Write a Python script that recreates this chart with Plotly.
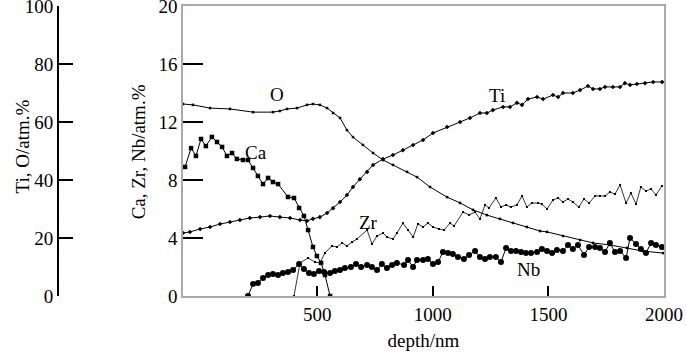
import plotly.graph_objects as go

# ---- data (depth in nm, concentrations in atm.%) ----
o_depth = [-80, -37, 37, 123, 223, 309, 339, 370, 413, 456, 482, 512, 543, 569, 599, 629, 655, 698,
           742, 785, 828, 889, 932, 988, 1062, 1118, 1174, 1234, 1291, 1347, 1407, 1464, 1494, 1563,
           1637, 1693, 1766, 1840, 1909, 1996]
o_val = [66.2, 65.9, 64.8, 64.5, 63.4, 63.4, 63.8, 64.5, 64.8, 65.9, 66.2, 65.9, 64.8, 63.1, 61.4,
         57.2, 54.8, 52.1, 49.3, 46.9, 45.2, 42.8, 41.0, 37.6, 34.1, 32.1, 29.7, 27.9, 26.6, 25.2,
         23.8, 22.4, 22.1, 20.7, 19.3, 18.3, 17.6, 16.6, 15.5, 14.8]

ti_depth = [-80, -50, -6, 37, 80, 123, 166, 209, 253, 296, 339, 383, 426, 456, 482, 512, 543, 569,
            599, 629, 655, 685, 716, 742, 785, 828, 871, 915, 958, 1001, 1062, 1118, 1161, 1204,
            1234, 1260, 1304, 1334, 1364, 1386, 1412, 1451, 1477, 1520, 1542, 1563, 1606, 1637,
            1671, 1693, 1723, 1745, 1779, 1810, 1831, 1853, 1883, 1918, 1953, 1992]
ti_val = [21.7, 22.1, 23.1, 23.8, 24.8, 25.5, 26.2, 26.9, 27.2, 27.6, 27.2, 26.9, 26.2, 25.9, 26.6,
          27.2, 28.6, 30.3, 32.4, 34.8, 37.6, 40.3, 42.8, 45.2, 47.2, 48.6, 50.3, 52.1, 53.8, 56.2,
          58.3, 60.0, 61.4, 63.1, 63.1, 64.1, 65.2, 65.2, 66.6, 65.9, 67.9, 68.6, 67.9, 69.3, 68.6,
          70.0, 70.0, 71.0, 72.4, 71.4, 71.4, 72.1, 72.1, 72.1, 73.4, 72.8, 73.1, 73.4, 73.8, 73.8]

ca_depth = [-71, -45, -24, -2, 19, 45, 67, 89, 110, 132, 153, 179, 201, 223, 244, 266, 288, 309,
            331, 374, 400, 422, 443, 461, 482, 499, 517, 534, 556]
ca_val = [8.90, 10.2, 9.66, 10.83, 10.34, 10.97, 10.62, 10.28, 9.66, 9.86, 9.45, 9.38, 9.38, 8.83,
          8.28, 7.72, 8.14, 7.86, 7.72, 6.83, 6.76, 6.07, 5.52, 4.55, 3.38, 2.76, 2.28, 1.45, 0.0]

zr_depth = [400, 426, 461, 491, 512, 534, 564, 586, 608, 629, 651, 672, 716, 737, 759, 785, 802,
            828, 845, 871, 893, 915, 936, 958, 979, 1001, 1027, 1049, 1075, 1092, 1131, 1157, 1183,
            1204, 1226, 1243, 1273, 1295, 1317, 1338, 1364, 1386, 1407, 1429, 1455, 1472, 1494,
            1520, 1542, 1563, 1585, 1606, 1632, 1654, 1676, 1702, 1723, 1745, 1766, 1788, 1810,
            1836, 1857, 1879, 1900, 1922, 1944, 1965, 1991]
zr_val = [0.0, 2.28, 2.62, 2.34, 2.28, 2.97, 3.45, 3.38, 3.66, 3.45, 3.72, 3.93, 4.55, 3.59, 4.14,
          4.34, 4.07, 3.93, 4.34, 5.03, 4.55, 4.07, 4.97, 4.76, 5.03, 4.76, 4.62, 4.55, 5.03, 4.83,
          5.79, 5.59, 5.79, 5.31, 6.28, 6.07, 6.76, 6.14, 6.28, 6.14, 6.28, 6.90, 6.14, 6.41, 6.41,
          6.34, 6.00, 6.62, 6.76, 6.48, 6.69, 6.48, 6.14, 6.69, 6.41, 6.90, 6.90, 6.90, 7.17, 7.03,
          7.66, 6.41, 7.10, 6.34, 7.52, 7.24, 7.38, 6.97, 7.59]

nb_depth = [201, 223, 244, 266, 288, 309, 331, 352, 374, 396, 422, 443, 465, 486, 508, 530, 556,
            577, 599, 620, 646, 668, 690, 716, 737, 759, 780, 802, 824, 845, 876, 893, 915, 932,
            958, 979, 1001, 1023, 1044, 1066, 1087, 1109, 1135, 1157, 1183, 1204, 1226, 1247, 1273,
            1295, 1317, 1338, 1360, 1382, 1403, 1425, 1451, 1472, 1494, 1516, 1537, 1563, 1585,
            1606, 1628, 1654, 1676, 1702, 1723, 1745, 1766, 1788, 1810, 1836, 1853, 1879, 1900,
            1922, 1944, 1965, 1991]
nb_val = [0.0, 0.83, 0.90, 1.24, 1.45, 1.52, 1.45, 1.59, 1.66, 1.79, 2.21, 1.86, 1.59, 1.52, 1.72,
          1.66, 1.59, 1.72, 1.79, 1.93, 2.00, 2.21, 2.00, 2.14, 2.00, 1.79, 2.21, 1.93, 2.14, 2.28,
          2.14, 2.48, 2.00, 2.48, 2.48, 2.55, 2.21, 2.34, 3.03, 2.97, 2.90, 2.69, 2.55, 2.83, 3.10,
          2.69, 2.55, 2.69, 2.69, 2.34, 3.31, 3.10, 3.10, 3.03, 2.97, 2.97, 3.03, 3.24, 3.10, 2.97,
          3.17, 3.10, 3.52, 3.24, 3.52, 2.83, 3.38, 3.38, 3.31, 3.03, 3.66, 3.03, 3.10, 2.62, 4.00,
          3.59, 3.24, 2.97, 3.66, 3.52, 3.38]

x_ticks = [500, 1000, 1500, 2000]
inner_ticks = [0, 4, 8, 12, 16, 20]
inner_marks = [4, 8, 12, 16]
outer_ticks = [0, 20, 40, 60, 80, 100]

labels = ["O", "Ti", "Ca", "Zr", "Nb"]
label_x = [326, 1278, 236, 720, 1412]
label_y = [13.9, 13.86, 9.93, 5.1, 1.86]

FONT = "Liberation Serif"
TF = dict(family=FONT, size=19, color="black")
fig = go.Figure()

fig.add_trace(go.Scatter(x=o_depth, y=o_val, yaxis="y2", mode="lines+markers",
                         line=dict(color="black", width=1),
                         marker=dict(symbol="square", size=2.5, color="black")))
fig.add_trace(go.Scatter(x=ti_depth, y=ti_val, yaxis="y2", mode="lines+markers",
                         line=dict(color="black", width=1),
                         marker=dict(symbol="diamond", size=3.5, color="black")))
fig.add_trace(go.Scatter(x=ca_depth, y=ca_val, yaxis="y3", mode="lines+markers",
                         line=dict(color="black", width=1),
                         marker=dict(symbol="square", size=4.5, color="black")))
fig.add_trace(go.Scatter(x=zr_depth, y=zr_val, yaxis="y", mode="lines+markers",
                         line=dict(color="black", width=0.8),
                         marker=dict(symbol="square", size=2, color="black")))
fig.add_trace(go.Scatter(x=nb_depth, y=nb_val, yaxis="y", mode="lines+markers",
                         line=dict(color="black", width=1),
                         marker=dict(symbol="circle", size=6, color="black")))

for t, lx, ly in zip(labels, label_x, label_y):
    fig.add_annotation(x=lx, y=ly, xref="x", yref="y", text=t, showarrow=False, font=TF)

fig.add_annotation(x=10 / 664, y=0.514, xref="paper", yref="paper", text="Ti, O/atm.%",
                   textangle=-90, showarrow=False, font=TF)
fig.add_annotation(x=126 / 664, y=0.497, xref="paper", yref="paper", text="Ca, Zr, Nb/atm.%",
                   textangle=-90, showarrow=False, font=TF)

fig.update_layout(
    width=686, height=354,
    margin=dict(l=0, r=22, t=6, b=58, autoexpand=False),
    paper_bgcolor="white", plot_bgcolor="white",
    showlegend=False,
    font=TF,
    xaxis=dict(domain=[183 / 664, 1], range=[-80, 2000], tickvals=x_ticks, tickfont=TF,
               ticks="inside", ticklen=10, tickwidth=1.5, tickcolor="black",
               showline=True, linecolor="#aaaaaa", linewidth=1.5, mirror=True,
               showgrid=False, zeroline=False, automargin=False, ticklabeloverflow="allow",
               title=dict(text="depth/nm", standoff=10, font=TF)),
    yaxis=dict(range=[0, 20], tickvals=inner_ticks, ticks="", tickfont=TF,
               showline=True, linecolor="#aaaaaa", linewidth=1.5, mirror=True,
               showgrid=False, zeroline=False, anchor="x", automargin=False,
               ticklabeloverflow="allow"),
    yaxis3=dict(range=[0, 20], tickvals=inner_marks, ticks="inside", ticklen=20,
                tickwidth=2, tickcolor="black", showticklabels=False, showline=False,
                showgrid=False, zeroline=False, overlaying="y", anchor="x", side="left",
                automargin=False),
    yaxis2=dict(range=[0, 100], tickvals=outer_ticks, ticks="inside", ticklen=14,
                tickwidth=2, tickcolor="black", showline=True, linecolor="black",
                linewidth=2, showgrid=False, zeroline=False, overlaying="y", tickfont=TF,
                anchor="free", position=58 / 664, side="left", automargin=False,
                ticklabeloverflow="allow"),
)

fig.write_html("out.html", config={"displayModeBar": False},
               post_script="document.body.style.margin='0';document.body.style.overflow='hidden';")
